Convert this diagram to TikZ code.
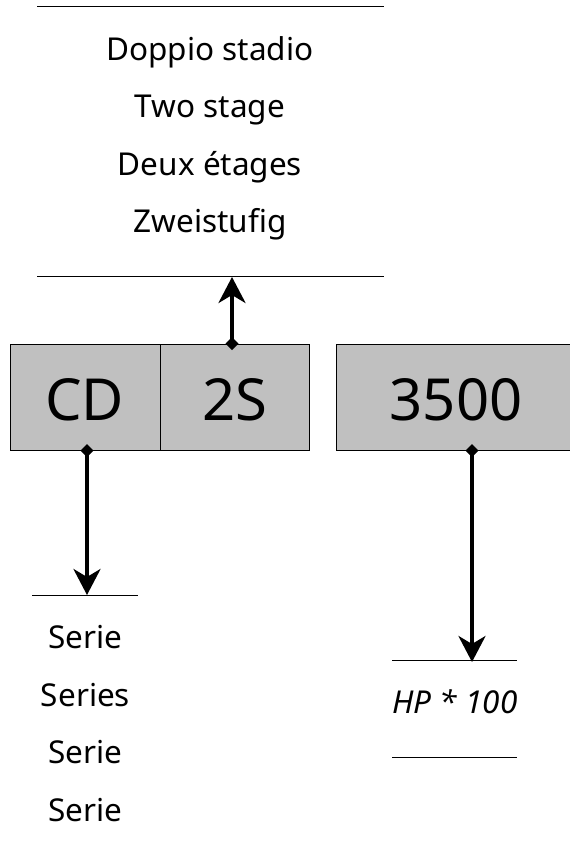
\documentclass[tikz,border=0pt]{standalone}
\usepackage{fontspec}
\setmainfont{Noto Sans}
\usetikzlibrary{arrows.meta,positioning}
\definecolor{BoxGray}{HTML}{C0C0C0}
\tikzset{
  codebox/.style={rectangle,draw=black,fill=BoxGray,line width=1pt,
                  minimum height=106pt,inner sep=0pt},
  codetxt/.style={inner sep=0pt,anchor=base,font=\fontsize{58}{58}\selectfont},
  lbl/.style={inner sep=0pt,anchor=base,font=\fontsize{31.5}{33}\selectfont},
  rule/.style={line width=0.8pt},
  callout/.style={line width=3.8pt,shorten <=-6pt,
                  {Diamond[length=13pt,width=13pt]}-{Stealth[length=26pt,width=27pt,inset=8pt]}},
}

\begin{document}
\begin{tikzpicture}[x=1pt,y=-1pt]
  \useasboundingbox (0,0) rectangle (570,863);
  \clip (0,0) rectangle (570,863);

  % code boxes
  \node[codebox,minimum width=150pt] (cd) at (85,397) {};
  \node[codebox,minimum width=149pt] (st) at (234.5,397) {};
  \node[codebox,minimum width=250pt,anchor=west] (hp) at (336,397) {};
  \node[codetxt] (cdtxt) at (84.5,420) {CD};
  \node[codetxt] (sttxt) at (235,420) {2S};
  \node[codetxt] (hptxt) at (456,420) {3500};

  % stages
  \draw[rule] (37,6) -- (384,6);
  \node[lbl] (it1) at (210,60) {Doppio stadio};
  \node[lbl] (en1) at (210,117) {Two stage};
  \node[lbl] (fr1) at (210,175) {Deux étages};
  \node[lbl] (de1) at (210,232) {Zweistufig};
  \coordinate (stlineL) at (37,276);
  \coordinate (stlineR) at (384,276);
  \draw[rule] (stlineL) -- (stlineR);
  \coordinate (stfoot) at (232,344);
  \coordinate (sthead) at (232,277);
  \draw[callout] (stfoot) -- (sthead);

  % series
  \coordinate (cdfoot) at (87,450);
  \coordinate (cdhead) at (87,595);
  \draw[callout] (cdfoot) -- (cdhead);
  \draw[rule] (32,595) -- (138,595);
  \node[lbl] (it2) at (85.5,648) {Serie};
  \node[lbl] (en2) at (85.5,706) {Series};
  \node[lbl] (fr2) at (85.5,763) {Serie};
  \node[lbl] (de2) at (85.5,821) {Serie};

  % power
  \coordinate (hpfoot) at (472,450);
  \coordinate (hphead) at (472,662);
  \draw[callout] (hpfoot) -- (hphead);
  \draw[rule] (392,660) -- (517,660);
  \node[lbl,font=\fontsize{31.5}{33}\selectfont\itshape] (hpunit) at (455,713) {HP * 100};
  \draw[rule] (392,757) -- (517,757);

\end{tikzpicture}
\end{document}
